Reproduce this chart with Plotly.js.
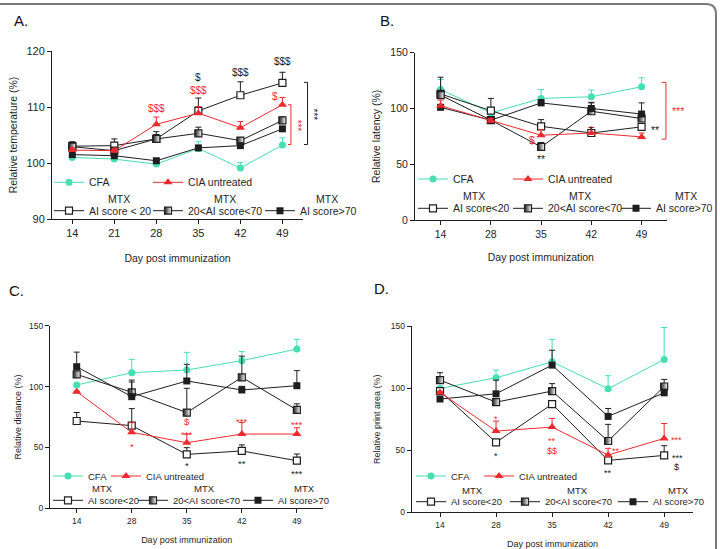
<!DOCTYPE html>
<html><head><meta charset="utf-8">
<script src="https://cdn.plot.ly/plotly-3.0.1.min.js"></script>
<style>html,body{margin:0;padding:0;background:#fff}#chart{width:720px;height:549px}</style>
</head><body><div id="chart"></div>
<script>
// ---------------- data ----------------
const daysA = ['14','21','28','35','42','49'];
const daysB = ['14','28','35','42','49'];
const namesA = ['CFA','CIA untreated','AI score < 20','20<AI score<70','AI score>70'];
const namesB = ['CFA','CIA untreated','AI score<20','20<AI score<70','AI score>70'];

// Panel A: relative temperature (%)
const cfaA  = [101.0, 100.7, 99.8, 102.6, 99.1, 103.2];
const ciaA  = [102.3, 102.2, 106.9, 108.9, 106.3, 110.4];
const lowA  = [103.0, 103.1, 104.3, 109.3, 112.1, 114.3];
const midA  = [102.9, 102.2, 104.3, 105.3, 104.0, 107.6];
const highA = [101.5, 101.3, 100.4, 102.7, 103.1, 106.1];
const cfaAErr  = [0.3, 0.3, 0.3, 1.2, 1.0, 1.3];
const ciaAErr  = [0.4, 0.4, 1.3, 1.2, 1.1, 1.3];
const lowAErr  = [0.8, 1.2, 0.8, 2.3, 2.4, 1.9];
const midAErr  = [0.5, 0.5, 1.3, 1.1, 0.5, 0.6];
const highAErr = [0.3, 0.3, 0.3, 0.3, 0.3, 0.4];

// Panel B: relative latency (%)
const cfaB  = [117, 96, 109, 110.5, 119.5];
const ciaB  = [102.5, 89, 76, 78, 74.5];
const lowB  = [113, 98, 84, 78, 83.5];
const midB  = [112, 89.5, 65.5, 97.5, 91];
const highB = [101, 89.5, 105, 100, 95];
const cfaBErr  = [9, 5, 8, 6, 8];
const ciaBErr  = [5, 2, 5, 5, 3.5];
const lowBErr  = [15, 11, 6, 3, 3];
const midBErr  = [3, 2, 4, 8, 4];
const highBErr = [2, 2, 3, 5, 10];

// Panel C: relative distance (%)
const cfaC  = [101.3, 111.4, 113.6, 121.3, 130.8];
const ciaC  = [95.8, 62.4, 53.9, 61.0, 61.0];
const lowC  = [71.7, 67.9, 44.3, 47.1, 39.1];
const midC  = [110, 95.3, 78.6, 107.6, 80.8];
const highC = [116.3, 91.7, 104.6, 97.2, 100.7];
const cfaCErr  = [0.5, 11, 14.5, 7.4, 8];
const ciaCErr  = [0.5, 8, 7, 9.4, 5.2];
const lowCErr  = [7, 14, 5.5, 5, 5.5];
const midCErr  = [2, 10, 20, 17.4, 5];
const highCErr = [12, 12, 13.7, 3, 12.4];

// Panel D: relative print area (%)
const cfaD  = [99.7, 108.3, 121.2, 99.5, 123];
const ciaD  = [96.5, 65.4, 68.6, 46.1, 59.5];
const lowD  = [97.6, 56.3, 87.1, 41.8, 45.8];
const midD  = [106.4, 88.7, 97.6, 57.4, 101.3];
const highD = [91.2, 95.4, 118.5, 77.2, 96.2];
const cfaDErr  = [0.5, 6.2, 18, 10.5, 25.8];
const ciaDErr  = [1, 8, 7, 5.4, 12];
const lowDErr  = [1, 2, 2, 1, 7.8];
const midDErr  = [6, 2, 6, 13.4, 5.7];
const highDErr = [1, 11, 12, 6.4, 3];

// significance labels: [day, value, text, group(0 red / 1 black), xshift]
const sigA = [['28',109.8,'$$$',0,0],['35',115.2,'$',1,0],['35',112.9,'$$$',0,0],
              ['42',116.1,'$$$',1,0],['49',118.1,'$$$',1,0],['49',111.8,'$',0,-7]];
const sigB = [['35',72,'$',0,-9],['35',57,'**',1,0],['42',83,'*',1,0],['49',83.5,'**',1,13]];
const sigC = [['28',53.4,'*',0,0],['35',71.7,'$',0,0],['35',63.5,'***',0,0],['35',37.5,'*',1,0],
              ['42',73.4,'***',0,0],['42',38.9,'**',1,0],['49',71.2,'***',0,0],['49',30.7,'***',1,0]];
const sigD = [['28',77.7,'*',0,0],['28',48,'*',1,0],['35',60,'**',0,0],['35',49.5,'$$',0,0],
              ['42',51.5,'**',0,8],['42',34,'**',1,0],['49',60.3,'***',0,12],['49',46.5,'***',1,13],['49',36.5,'$',1,12]];
// brackets: [top value, bottom value, group]
const brA = [[114.4,103.3,1],[110.4,103.3,0]];
const brB = [[123.4,72.5,0]];

// ---------------- styling ----------------
const FONT = 'Arial, "Liberation Sans", sans-serif';
const RED = '#ee2a2f', CYAN = '#45dfb1', BLK = '#1e1e1e', TXT = '#262626', SIGBLK = '#222222';
const W = 720, H = 549;
const px = v => v / W, py = v => 1 - v / H;
// keep "$" literal (avoid LaTeX detection)
const esc = t => t.replace(/\$/g, '&#36;');

const styles = [
  {color: CYAN, marker: {symbol: 'circle', size: 7, color: CYAN}},
  {color: RED, marker: {symbol: 'triangle-up', size: 8, color: RED}},
  {color: BLK, marker: {symbol: 'square', size: 7, color: '#ffffff', line: {color: BLK, width: 1.2}}},
  {color: BLK, marker: {symbol: 'square', size: 7, color: BLK, gradient: {type: 'horizontal', color: '#ffffff'}, line: {color: BLK, width: 1.2}}},
  {color: BLK, marker: {symbol: 'square', size: 7, color: BLK}}
];
const drawOrder = [0, 2, 3, 4, 1];

const panels = [
  {cats: daysA, vals: [cfaA, ciaA, lowA, midA, highA], errs: [cfaAErr, ciaAErr, lowAErr, midAErr, highAErr], names: namesA,
   xDom: [52, 303], yDom: [51, 219], xRange: [-0.483, 5.49], yRange: [90, 120], yTicks: [90, 100, 110, 120],
   yTitle: 'Relative temperature (%)', tick: 11, title: 10.5, leg: 10.5, sig: sigA, sigSize: 10, br: brA,
   brX: [[1.018, 1.004], [0.952, 0.940]], brStar: [[1.041, 108.6, 90], [0.979, 106.7, 90]],
   legT: [89, 188, 89, 188, 300], legRow: [182.3, 210.7], mtxX: [119, 225, 327], mtxY: 199.3,
   label: 'A.', labelPos: [12, 20], xStand: 16, yStand: 6},
  {cats: daysB, vals: [cfaB, ciaB, lowB, midB, highB], errs: [cfaBErr, ciaBErr, lowBErr, midBErr, highBErr], names: namesB,
   xDom: [415, 666.7], yDom: [52.7, 220], xRange: [-0.51, 4.5], yRange: [0, 150], yTicks: [0, 50, 100, 150],
   yTitle: 'Relative latency (%)', tick: 10.5, title: 10.5, leg: 10.5, sig: sigB, sigSize: 10.5, br: brB,
   brX: [[0.997, 0.980]], brStar: [[1.046, 97.3, 0]],
   legT: [453, 548, 453, 548, 656], legRow: [179, 208.3], mtxX: [474, 580, 686], mtxY: 196,
   label: 'B.', labelPos: [378, 20], xStand: 15, yStand: 7},
  {cats: daysB, vals: [cfaC, ciaC, lowC, midC, highC], errs: [cfaCErr, ciaCErr, lowCErr, midCErr, highCErr], names: namesB,
   xDom: [50, 323.3], yDom: [325.7, 508.3], xRange: [-0.485, 4.48], yRange: [0, 150], yTicks: [0, 50, 100, 150],
   yTitle: 'Relative distance (%)', tick: 8.5, title: 9, leg: 9.5, sig: sigC, sigSize: 9.5, br: [],
   brX: [], brStar: [],
   legT: [88, 146, 88, 173, 278], legRow: [476, 500.3], mtxX: [102, 204, 304], mtxY: 488.3,
   label: 'C.', labelPos: [7, 290], xStand: 12, yStand: 5},
  {cats: daysB, vals: [cfaD, ciaD, lowD, midD, highD], errs: [cfaDErr, ciaDErr, lowDErr, midDErr, highDErr], names: namesB,
   xDom: [411.7, 693.3], yDom: [326, 512.3], xRange: [-0.505, 4.52], yRange: [0, 150], yTicks: [0, 50, 100, 150],
   yTitle: 'Relative print area (%)', tick: 8.5, title: 9, leg: 9.5, sig: sigD, sigSize: 9, br: [],
   brX: [], brStar: [],
   legT: [451, 519, 451, 545, 653], legRow: [476, 501.7], mtxX: [472, 577, 678], mtxY: 490,
   label: 'D.', labelPos: [372, 288.5], xStand: 14, yStand: 8}
];

const traces = [];
const layout = {
  width: W, height: H, margin: {l: 0, r: 0, t: 0, b: 0},
  paper_bgcolor: '#ffffff', plot_bgcolor: 'rgba(0,0,0,0)',
  font: {family: FONT, color: TXT},
  showlegend: true, annotations: [], shapes: []
};

let legIdx = 0;
const LEG_OFF = 40; // distance from legend left to item text start

panels.forEach((p, k) => {
  const xn = k === 0 ? 'x' : 'x' + (k + 1);
  const yn = k === 0 ? 'y' : 'y' + (k + 1);
  const xk = k === 0 ? 'xaxis' : 'xaxis' + (k + 1);
  const yk = k === 0 ? 'yaxis' : 'yaxis' + (k + 1);
  layout[xk] = {
    domain: [px(p.xDom[0]), px(p.xDom[1])], anchor: yn, type: 'category', range: p.xRange,
    showline: true, linecolor: BLK, linewidth: 1, ticks: 'outside', ticklen: 4, tickcolor: BLK,
    showgrid: false, zeroline: false, tickfont: {size: p.tick, color: TXT}, fixedrange: true,
    title: {text: 'Day post immunization', font: {size: p.title, color: TXT}, standoff: p.xStand}
  };
  layout[yk] = {
    domain: [py(p.yDom[1]), py(p.yDom[0])], anchor: xn, range: p.yRange, tickvals: p.yTicks,
    showline: true, linecolor: BLK, linewidth: 1, ticks: 'outside', ticklen: 4, tickcolor: BLK,
    showgrid: false, zeroline: false, tickfont: {size: p.tick, color: TXT}, fixedrange: true,
    title: {text: p.yTitle, font: {size: p.title, color: TXT}, standoff: p.yStand}
  };

  // legends: one per entry so they can be laid out like the original grid
  const legNames = [];
  for (let s = 0; s < 5; s++) {
    legIdx++;
    const ln = legIdx === 1 ? 'legend' : 'legend' + legIdx;
    legNames.push(ln);
    const rowY = s < 2 ? p.legRow[0] : p.legRow[1];
    layout[ln] = {
      x: px(p.legT[s] - LEG_OFF), y: py(rowY), xanchor: 'left', yanchor: 'middle',
      bgcolor: 'rgba(0,0,0,0)', borderwidth: 0, font: {size: p.leg, color: TXT, family: FONT},
      itemwidth: 30, tracegroupgap: 0, itemclick: false, itemdoubleclick: false
    };
  }

  drawOrder.forEach(s => {
    const st = styles[s];
    traces.push({
      type: 'scatter', mode: 'lines+markers', x: p.cats, y: p.vals[s],
      xaxis: xn, yaxis: yn, name: p.names[s], legend: legNames[s],
      line: {color: st.color, width: 1}, marker: st.marker, cliponaxis: false,
      error_y: {type: 'data', symmetric: false, array: p.errs[s], arrayminus: p.errs[s].map(() => 0),
                color: st.color, thickness: 1, width: 3},
      hoverinfo: 'skip'
    });
  });

  // "MTX" header above the three MTX legend entries
  p.mtxX.forEach(mx => layout.annotations.push({
    xref: 'paper', yref: 'paper', x: px(mx), y: py(p.mtxY), text: 'MTX', showarrow: false,
    xanchor: 'center', yanchor: 'middle', font: {size: p.leg, color: TXT}
  }));

  // significance marks (category position by index)
  p.sig.forEach(([d, v, t, g, xs]) => {
    const isStar = t.indexOf('*') >= 0;
    layout.annotations.push({
      xref: xn, yref: yn, x: p.cats.indexOf(d), y: v, text: esc(t), showarrow: false,
      xanchor: 'center', yanchor: 'middle',
      xshift: xs, yshift: isStar ? -3 : 0, font: {size: p.sigSize, color: g === 0 ? RED : SIGBLK}
    });
  });

  // brackets
  p.br.forEach(([top, bot, g], i) => {
    const c = g === 0 ? RED : BLK;
    const [xv, xt] = p.brX[i];
    const base = {type: 'line', xref: xn + ' domain', yref: yn, line: {color: c, width: 1}};
    layout.shapes.push(Object.assign({}, base, {x0: xv, x1: xv, y0: bot, y1: top}));
    layout.shapes.push(Object.assign({}, base, {x0: xt, x1: xv, y0: top, y1: top}));
    layout.shapes.push(Object.assign({}, base, {x0: xt, x1: xv, y0: bot, y1: bot}));
    const [sx, sy, ang] = p.brStar[i];
    layout.annotations.push({
      xref: xn + ' domain', yref: yn, x: sx, y: sy, text: '***', showarrow: false, textangle: ang,
      xanchor: 'center', yanchor: 'middle', font: {size: p.sigSize, color: c}
    });
  });

  // panel label
  layout.annotations.push({
    xref: 'paper', yref: 'paper', x: px(p.labelPos[0]), y: py(p.labelPos[1]), text: p.label,
    showarrow: false, xanchor: 'left', yanchor: 'middle', font: {size: 15, color: '#111'}
  });
});

// figure frame (top edge and rounded top-right corner)
layout.shapes.push({
  type: 'path', xref: 'paper', yref: 'paper', layer: 'above',
  path: `M 0,${py(4)} L ${px(706)},${py(4)} Q ${px(716)},${py(4)} ${px(716)},${py(14)} L ${px(716)},0`,
  line: {color: '#7a7a7a', width: 2}
});

Plotly.newPlot('chart', traces, layout, {displayModeBar: false, staticPlot: true});
</script></body></html>
